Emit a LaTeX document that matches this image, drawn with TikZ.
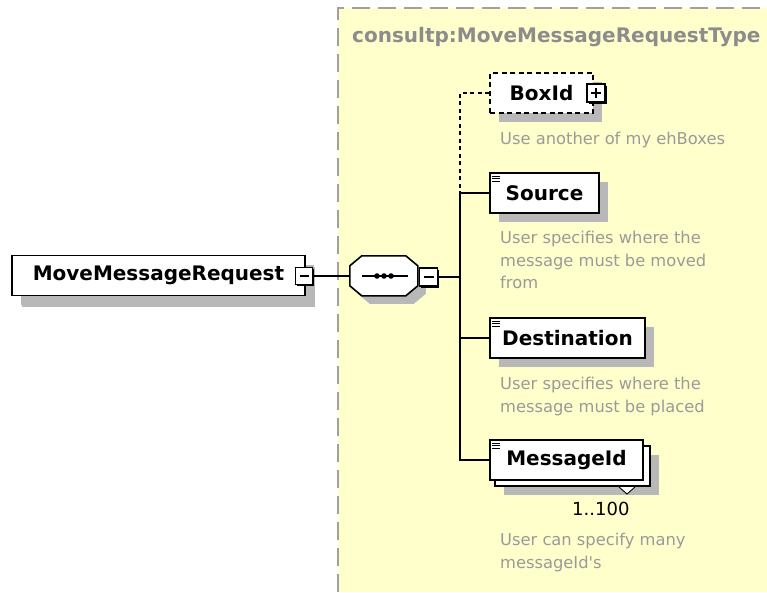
\documentclass[tikz,border=0pt]{standalone}
\usepackage{fontspec}
\setmainfont{DejaVu Sans}
\usetikzlibrary{shadows,calc}
\definecolor{typeyellow}{HTML}{FFFFCC}
\definecolor{shgrey}{HTML}{B8B8B8}
\definecolor{txtgrey}{HTML}{8C8C8C}
\definecolor{descgrey}{HTML}{9A9A9A}
\definecolor{bordergrey}{HTML}{A0A0A0}
\begin{document}
\begin{tikzpicture}[x=1pt,y=-1pt,
  elem/.style={draw=black, line width=1.6pt, fill=white, minimum height=40pt, inner sep=0pt,
    font=\fontsize{20}{22}\selectfont\bfseries,
    general shadow={fill=shgrey, shadow xshift=9pt, shadow yshift=-9pt}},
  pmbox/.style={draw=black, line width=1.3pt, fill=white, minimum size=17pt, inner sep=0pt,
    general shadow={fill=black, shadow xshift=1.6pt, shadow yshift=-1.6pt}},
  conn/.style={line width=1.6pt},
  optconn/.style={line width=1.6pt, dash pattern=on 4pt off 3.5pt},
  desc/.style={anchor=north west, inner sep=0pt, align=left, text=descgrey,
    font=\fontsize{16.3}{22.5}\selectfont},
  icon/.style={line width=0.9pt}]
\useasboundingbox (0,0) rectangle (767,592);
\fill[white] (0,0) rectangle (767,592);
% complex type area
\fill[typeyellow] (338,8) rectangle (767,592);
\draw[bordergrey, line width=1.6pt, dash pattern=on 18pt off 8pt] (338,592) -- (338,8) -- (767,8);
\node[anchor=base west, inner sep=0pt, text=txtgrey, font=\fontsize{20}{22}\selectfont\bfseries]
  (title) at (352,42) {consultp:MoveMessageRequestType};

% root element
\node[elem, minimum width=293pt, general shadow={fill=shgrey, shadow xshift=10pt, shadow yshift=-11pt}] (mmr) at (158.5,275.5) {MoveMessageRequest};
\node[pmbox] (mmrminus) at (304,276) {};
\draw[line width=1.4pt] ($(mmrminus.center)+(-4.5,0)$) -- ($(mmrminus.center)+(4.5,0)$);

% sequence compositor (octagon)
\node[minimum width=68pt, minimum height=40pt, inner sep=0pt] (seq) at (384,276) {};
\fill[shgrey, shift={($(seq.north west)+(8,8)$)}]
  (12,0) -- (56,0) -- (68,10) -- (68,30) -- (56,40) -- (12,40) -- (0,30) -- (0,10) -- cycle;
\draw[line width=1.6pt, fill=white, shift={(seq.north west)}]
  (12,0) -- (56,0) -- (68,10) -- (68,30) -- (56,40) -- (12,40) -- (0,30) -- (0,10) -- cycle;
\draw[line width=1.5pt] ($(seq.center)+(-22,0)$) -- ($(seq.center)+(24,0)$);
\foreach \dx in {-7,0,7} \fill ($(seq.center)+(\dx,0)$) circle (2.8pt);
\node[pmbox, minimum size=18pt] (seqminus) at (428.5,277) {};
\draw[line width=1.4pt] ($(seqminus.center)+(-5,0)$) -- ($(seqminus.center)+(5,0)$);

\draw[conn] (mmrminus.east) -- (seq.west);

% child elements
\node[elem, minimum width=103pt, dash pattern=on 5pt off 3.5pt] (boxid) at (541.5,93) {BoxId};
\node[pmbox, minimum size=18pt] (boxplus) at (596,93) {};
\draw[line width=1.4pt] ($(boxplus.center)+(-5,0)$) -- ($(boxplus.center)+(5,0)$)
  ($(boxplus.center)+(0,-5)$) -- ($(boxplus.center)+(0,5)$);

\node[elem, minimum width=109pt] (src) at (544.5,193) {Source};
\node[elem, minimum width=155pt] (dest) at (567.5,338) {Destination};
\node[elem, minimum width=155pt] (msgback) at (572.5,466) {};
\node[draw=black, line width=1.6pt, fill=white, minimum width=153pt, minimum height=40pt, inner sep=0pt,
  font=\fontsize{20}{22}\selectfont\bfseries] (msg) at (566.5,460) {MessageId};
\draw[line width=0.9pt, fill=white] (619,487) -- (627,494) -- (635,487);

% content icons
\foreach \n in {src,dest,msg}
  \foreach \d in {4,6.5,9}
    \draw[icon] ($(\n.north west)+(3,\d)$) -- ++(8,0);

% connectors
\coordinate (vtop) at (460,193);
\draw[optconn] (boxid.west) -| (vtop);
\draw[conn] (src.west) -- (vtop) -- (vtop |- msg.west) -- (msg.west);
\draw[conn] (dest.west) -- (dest.west -| vtop);
\draw[conn] (seqminus.east) -- (seqminus.east -| vtop);

% annotations
\node[desc] (boxiddesc) at (500,132) {Use another of my ehBoxes};
\node[desc] (srcdesc) at (500,231) {User specifies where the\\message must be moved\\from};
\node[desc] (destdesc) at (500,377) {User specifies where the\\message must be placed};
\node[anchor=base west, inner sep=0pt, font=\fontsize{18}{20}\selectfont] (mult) at (572,515) {1..100};
\node[desc] (msgdesc) at (500,533) {User can specify many\\messageId{\addfontfeature{Mapping=}'}s};
\end{tikzpicture}
\end{document}
